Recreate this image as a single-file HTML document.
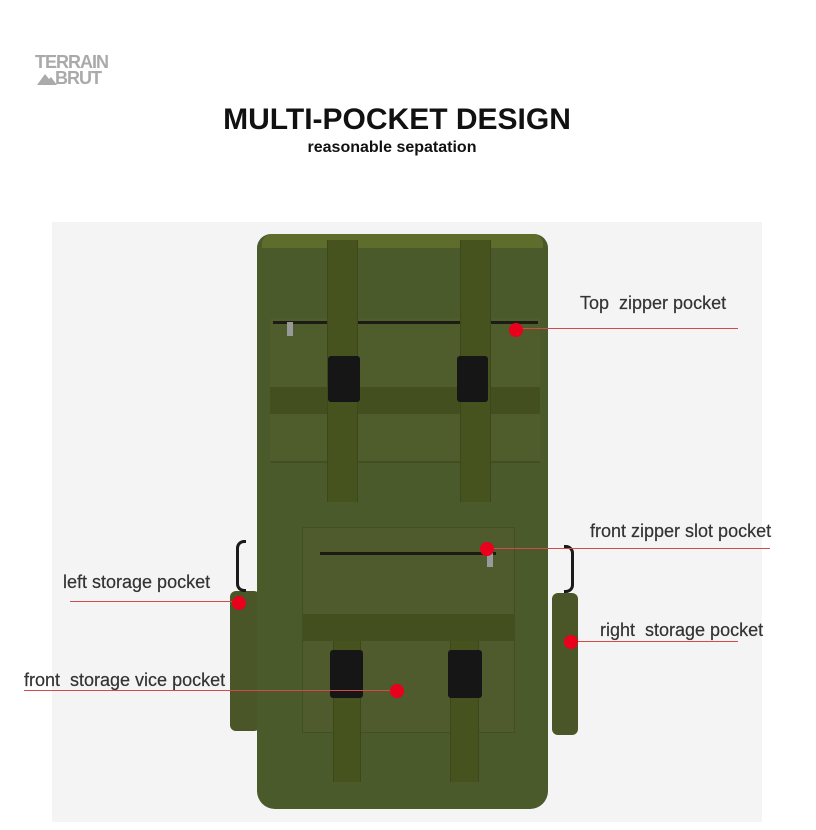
<!DOCTYPE html>
<html><head><style>
*{margin:0;padding:0;box-sizing:border-box}
body{width:816px;height:830px;background:#fff;position:relative;overflow:hidden;font-family:"Liberation Sans",Arial,sans-serif}
div{position:absolute}
.t{color:#333;font-size:18px;white-space:nowrap;-webkit-text-stroke:0.2px #333}
.l{height:1px;background:#d24a4a}
.d{width:14px;height:14px;border-radius:50%;background:#e8001c}
.strap{background:#47531f;border-left:1px solid #3d471b;border-right:1px solid #3d471b}
.buck{background:#161616;border-radius:3px}
.zip{height:3px;background:#1c1c14}
</style></head><body>
<div style="left:35px;top:54px;font-weight:bold;font-size:18px;line-height:16px;color:#aaa;letter-spacing:-1px">TERRAIN<br><span style="margin-left:20px">BRUT</span></div>
<svg style="position:absolute;left:37px;top:71px" width="20" height="14"><polygon points="0,14 8,3 12,8 14,6 20,14" fill="#aaa"/></svg>
<div style="left:0;width:794px;top:103px;text-align:center;font-weight:bold;font-size:30px;color:#111">MULTI-POCKET DESIGN</div>
<div style="left:0;width:784px;top:139px;text-align:center;font-weight:bold;font-size:16px;color:#111">reasonable sepatation</div>
<div style="left:52px;top:222px;width:710px;height:600px;background:#f4f4f4"></div>
<div style="left:230px;top:591px;width:30px;height:140px;background:#4a5628;border-radius:6px"></div>
<div style="left:552px;top:593px;width:26px;height:142px;background:#4a5628;border-radius:6px"></div>
<div style="left:236px;top:540px;width:10px;height:52px;border:3px solid #1a1a1a;border-right:none;border-radius:8px 0 0 8px"></div>
<div style="left:564px;top:545px;width:10px;height:48px;border:3px solid #1a1a1a;border-left:none;border-radius:0 8px 8px 0"></div>
<div style="left:257px;top:234px;width:291px;height:575px;background:#4b5a2b;border-radius:14px 14px 18px 18px"></div>
<div style="left:262px;top:234px;width:281px;height:14px;background:#5f6d2c;border-radius:10px 10px 0 0"></div>
<div style="left:270px;top:318px;width:270px;height:145px;background:#4f5c2c;border-bottom:2px solid #434f22"></div>
<div class="zip" style="left:273px;top:321px;width:265px"></div>
<div style="left:287px;top:322px;width:6px;height:14px;background:#999"></div>
<div style="left:270px;top:387px;width:270px;height:27px;background:#434f1e"></div>
<div class="strap" style="left:327px;top:240px;width:31px;height:262px"></div>
<div class="strap" style="left:460px;top:240px;width:31px;height:262px"></div>
<div class="buck" style="left:328px;top:356px;width:32px;height:46px"></div>
<div class="buck" style="left:457px;top:356px;width:31px;height:46px"></div>
<div style="left:302px;top:527px;width:213px;height:206px;background:#4f5b2c;border:1px solid #434f22"></div>
<div class="zip" style="left:320px;top:552px;width:176px"></div>
<div style="left:487px;top:553px;width:6px;height:14px;background:#999"></div>
<div style="left:302px;top:614px;width:213px;height:27px;background:#434f1e"></div>
<div class="strap" style="left:333px;top:641px;width:28px;height:141px"></div>
<div class="strap" style="left:450px;top:641px;width:29px;height:141px"></div>
<div class="buck" style="left:330px;top:650px;width:33px;height:48px"></div>
<div class="buck" style="left:448px;top:650px;width:34px;height:48px"></div>
<div class="t" style="left:580px;top:293px">Top&nbsp; zipper pocket</div>
<div class="l" style="left:520px;top:328px;width:218px"></div>
<div class="d" style="left:509px;top:323px"></div>
<div class="t" style="left:590px;top:521px">front zipper slot pocket</div>
<div class="l" style="left:490px;top:548px;width:280px"></div>
<div class="d" style="left:480px;top:542px"></div>
<div class="t" style="left:63px;top:572px">left storage pocket</div>
<div class="l" style="left:70px;top:601px;width:169px"></div>
<div class="d" style="left:232px;top:596px"></div>
<div class="t" style="left:600px;top:620px">right&nbsp; storage pocket</div>
<div class="l" style="left:571px;top:641px;width:167px"></div>
<div class="d" style="left:564px;top:635px"></div>
<div class="t" style="left:24px;top:670px">front&nbsp; storage vice pocket</div>
<div class="l" style="left:24px;top:690px;width:373px"></div>
<div class="d" style="left:390px;top:684px"></div>
</body></html>
